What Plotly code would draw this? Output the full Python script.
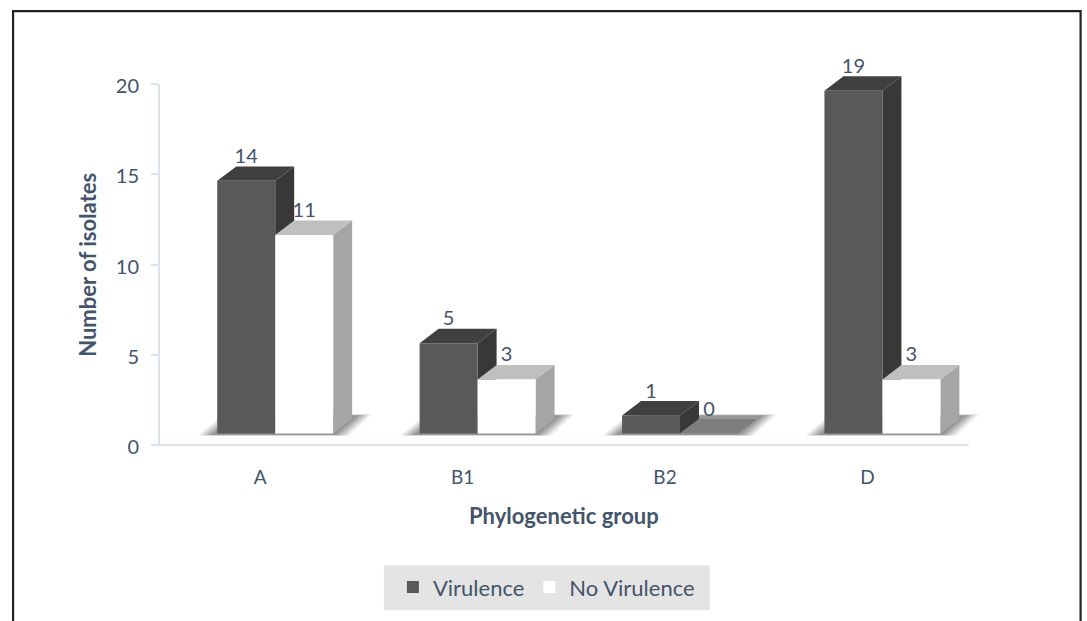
import plotly.graph_objects as go

# Isolate counts per phylogenetic group
groups = ["A", "B1", "B2", "D"]
virulence = [14, 5, 1, 19]
no_virulence = [11, 3, 0, 3]
y_ticks = [0, 5, 10, 15, 20]

# Pixel scale of the axes; the ranges run past the last tick so the box depth is not clipped
PX_X = 202.5                      # pixels per category
PX_Y = 18.075                     # pixels per count
X_RANGE = [-0.5, 3.65]
Y_RANGE = [0, 21.5]
PLOT_L = 159
PLOT_B = 445.5
PLOT_R = PLOT_L + (X_RANGE[1] - X_RANGE[0]) * PX_X
PLOT_T = PLOT_B - (Y_RANGE[1] - Y_RANGE[0]) * PX_Y
AXIS_R = PLOT_L + 4 * PX_X
AXIS_T = PLOT_B - 20 * PX_Y


def ux(px):
    return px / PX_X


def uy(px):
    return px / PX_Y


def paper_x(px):
    return (px - PLOT_L) / (PLOT_R - PLOT_L)


def paper_y(px):
    return (PLOT_B - px) / (PLOT_B - PLOT_T)


# Pseudo-3D box geometry, in axis units
BAR_W = ux(58)
DEPTH_X = ux(19)
DEPTH_Y = uy(14.5)
LIFT = uy(11.5)              # front faces stand above the axis line
OFFSET_DARK = ux(-14)
OFFSET_LIGHT = ux(44)

INK = "#44546a"
AXIS = "#dde1ea"
FONT = "Lato"


def side_polys(xs, vals):
    px, py = [], []
    for x, v in zip(xs, vals):
        if v == 0:
            continue
        r = x + BAR_W / 2
        px += [r, r + DEPTH_X, r + DEPTH_X, r, r, None]
        py += [LIFT, LIFT + DEPTH_Y, LIFT + v + DEPTH_Y, LIFT + v, LIFT, None]
    return px, py


def top_polys(xs, vals):
    px, py = [], []
    for x, v in zip(xs, vals):
        l, r = x - BAR_W / 2, x + BAR_W / 2
        t = LIFT + v
        px += [l, r, r + DEPTH_X, l + DEPTH_X, l, None]
        py += [t, t, t + DEPTH_Y, t + DEPTH_Y, t, None]
    return px, py


def poly(px, py, color, z):
    return go.Scatter(x=px, y=py, mode="lines", fill="toself", fillcolor=color,
                      line=dict(width=0, color=color), hoverinfo="skip",
                      showlegend=False, zorder=z)


x_dark = [i + OFFSET_DARK for i in range(len(groups))]
x_light = [i + OFFSET_LIGHT for i in range(len(groups))]

fig = go.Figure()

# Soft floor shadow under each pair of boxes, built from stacked translucent layers
for grow, alpha in [(14, 0.06), (12, 0.07), (10, 0.08), (8, 0.09), (6, 0.1), (4, 0.11), (2, 0.12), (0, 0.13)]:
    sx, sy = [], []
    for x in x_dark:
        l = x - BAR_W / 2
        low = LIFT - uy(1.5 + grow * 0.05)
        high = LIFT + uy(18 + grow * 0.1)
        sx += [l + ux(-6 - grow), l + ux(118 + grow), l + ux(141 + grow),
               l + ux(20 - grow), l + ux(-6 - grow), None]
        sy += [low, low, high, high, low, None]
    fig.add_trace(poly(sx, sy, f"rgba(70,70,70,{alpha})", 0))

# Virulence boxes
fig.add_trace(poly(*side_polys(x_dark, virulence), "#383838", 1))
fig.add_trace(poly(*top_polys(x_dark, virulence), "#404040", 1))
fig.add_trace(go.Bar(x=x_dark, y=virulence, base=[LIFT] * len(groups), width=BAR_W,
                     name="Virulence", marker=dict(color="#595959", line_width=0),
                     hoverinfo="x+y", zorder=2))

# No-virulence boxes; an empty box leaves only a grey footprint on the floor
empty = [v == 0 for v in no_virulence]
fig.add_trace(poly(*side_polys(x_light, no_virulence), "#a5a5a5", 3))
fig.add_trace(poly(*top_polys([x for x, e in zip(x_light, empty) if not e],
                              [v for v, e in zip(no_virulence, empty) if not e]), "#bfbfbf", 3))
fig.add_trace(poly(*top_polys([x for x, e in zip(x_light, empty) if e],
                              [v for v, e in zip(no_virulence, empty) if e]), "#7d7d7d", 3))
fig.add_trace(go.Bar(x=x_light, y=no_virulence, base=[LIFT] * len(groups), width=BAR_W,
                     name="No Virulence", marker=dict(color="#ffffff", line_width=0),
                     hoverinfo="x+y", zorder=4))

# Value labels sit above the back edge of each box top
for xs, vals in [(x_dark, virulence), (x_light, no_virulence)]:
    fig.add_trace(go.Scatter(
        x=xs, y=[LIFT + v + DEPTH_Y + uy(8.5) for v in vals],
        mode="text", text=[str(v) for v in vals], textposition="middle center",
        textfont=dict(family=FONT, size=20, color=INK),
        hoverinfo="skip", showlegend=False, zorder=5))

fig.update_layout(
    width=1087, height=621,
    margin=dict(l=PLOT_L, r=1087 - PLOT_R, t=PLOT_T, b=621 - PLOT_B, autoexpand=False),
    paper_bgcolor="white", plot_bgcolor="white",
    barmode="overlay",
    font=dict(family=FONT, size=19, color=INK),
    xaxis=dict(range=X_RANGE, tickmode="array", tickvals=list(range(len(groups))),
               ticktext=groups, ticks="", showgrid=False, zeroline=False,
               showline=False, automargin=False,
               tickfont=dict(family=FONT, size=19, color=INK), ticklabelstandoff=19),
    yaxis=dict(range=Y_RANGE, tickmode="array", tickvals=y_ticks, ticks="outside",
               ticklen=7, tickwidth=2, tickcolor=AXIS, showgrid=False, zeroline=False,
               showline=False, automargin=False,
               tickfont=dict(family=FONT, size=20, color=INK), ticklabelstandoff=8,
               ticklabelshift=2),
    legend=dict(orientation="h", x=paper_x(393), y=paper_y(567), xanchor="left", yanchor="top",
                bgcolor="rgba(0,0,0,0)", font=dict(family=FONT, size=22, color=INK),
                traceorder="normal"),
    annotations=[
        dict(text="<b>Phylogenetic group</b>", xref="paper", yref="paper",
             x=paper_x(564), y=paper_y(516), xanchor="center", yanchor="middle",
             showarrow=False, font=dict(family=FONT, size=22, color=INK)),
        dict(text="<b>Number of isolates</b>", xref="paper", yref="paper",
             x=paper_x(88), y=paper_y(265), xanchor="center", yanchor="middle",
             textangle=-90, showarrow=False, font=dict(family=FONT, size=22, color=INK)),
    ],
    shapes=[
        # Legend panel
        dict(type="rect", xref="paper", yref="paper", layer="below",
             x0=paper_x(384), x1=paper_x(710), y0=paper_y(611), y1=paper_y(566),
             fillcolor="#e4e4e4", line_width=0),
        # Axis lines
        dict(type="line", xref="paper", yref="paper", layer="below",
             x0=paper_x(PLOT_L), x1=paper_x(PLOT_L), y0=paper_y(AXIS_T), y1=paper_y(PLOT_B + 1),
             line=dict(color=AXIS, width=2)),
        dict(type="line", xref="paper", yref="paper", layer="below",
             x0=paper_x(PLOT_L - 7), x1=paper_x(AXIS_R), y0=paper_y(PLOT_B), y1=paper_y(PLOT_B),
             line=dict(color=AXIS, width=2)),
        # Frame, open at the bottom of the page
        dict(type="path", xref="paper", yref="paper", layer="above",
             path=f"M {paper_x(13)} {paper_y(640)} L {paper_x(13)} {paper_y(11)} "
                  f"L {paper_x(1081)} {paper_y(11)} L {paper_x(1081)} {paper_y(640)}",
             line=dict(color="#222222", width=2.2)),
    ],
)

fig.write_html("out.html")
